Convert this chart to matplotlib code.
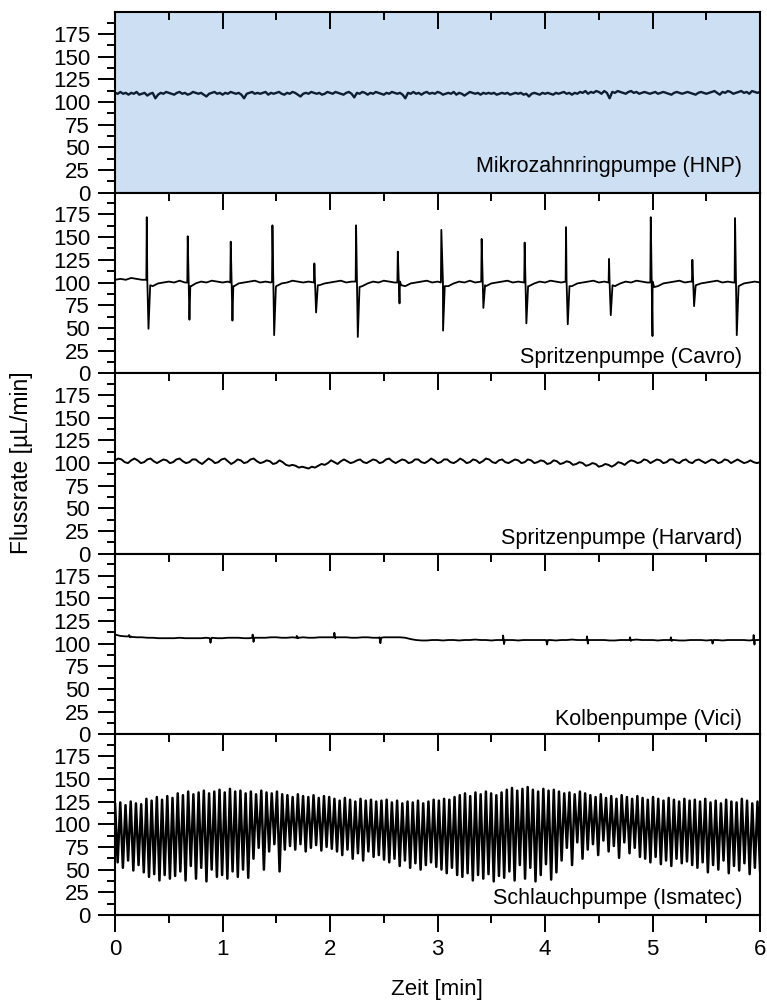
import numpy as np
import matplotlib
matplotlib.use("Agg")
import matplotlib.pyplot as plt
from matplotlib.ticker import MultipleLocator, FixedLocator

plt.rcParams["font.family"] = ["Liberation Sans", "DejaVu Sans"]

T_END = 6.0  # min

panel_labels = [
    "Mikrozahnringpumpe (HNP)",
    "Spritzenpumpe (Cavro)",
    "Spritzenpumpe (Harvard)",
    "Kolbenpumpe (Vici)",
    "Schlauchpumpe (Ismatec)",
]
label_y = [0.145, 0.085, 0.085, 0.085, 0.09]
x_ticks = [0, 1, 2, 3, 4, 5, 6]
x_minor = [0.5, 1.5, 2.5, 3.5, 4.5, 5.5]

# HNP, 0.025 min steps (241 values)
hnp_flow = [
    110, 109, 111, 109, 110, 108, 110, 109, 111, 108, 109, 110, 107, 109, 110, 104, 108, 110, 109, 111,
    110, 109, 108, 110, 111, 109, 110, 108, 109, 111, 110, 109, 110, 108, 106, 109, 110, 111, 109, 110,
    108, 110, 109, 111, 110, 109, 110, 108, 104, 109, 110, 111, 109, 110, 109, 110, 111, 108, 110, 109,
    110, 111, 109, 108, 110, 109, 111, 110, 108, 106, 109, 110, 109, 111, 110, 109, 110, 108, 109, 111,
    110, 109, 111, 110, 109, 108, 110, 111, 109, 105, 110, 109, 111, 110, 108, 110, 109, 111, 110, 109,
    108, 110, 109, 111, 110, 109, 110, 108, 104, 110, 109, 111, 109, 110, 108, 110, 111, 109, 110, 109,
    111, 110, 108, 109, 110, 109, 111, 108, 110, 109, 107, 109, 111, 110, 109, 110, 108, 110, 109, 110,
    109, 110, 108, 109, 110, 109, 110, 108, 109, 110, 109, 110, 108, 109, 106, 109, 110, 109, 108, 110,
    109, 110, 109, 108, 110, 109, 110, 111, 109, 110, 108, 110, 109, 111, 110, 112, 109, 111, 110, 112,
    111, 109, 112, 110, 104, 111, 110, 112, 111, 110, 109, 111, 112, 110, 111, 109, 110, 111, 110, 109,
    110, 111, 109, 110, 111, 110, 109, 108, 110, 111, 110, 109, 110, 111, 110, 109, 108, 110, 111, 110,
    109, 110, 111, 112, 110, 108, 111, 110, 112, 111, 109, 110, 111, 112, 110, 111, 109, 112, 111, 110,
    111,
]

# Cavro: baseline in 0.05 min steps (121 values) + the sharp up/down spikes
cavro_base = [
    103, 104, 103, 105, 104, 103, 103, 96, 99, 100, 101, 100, 102, 100, 96, 99, 101, 100, 102, 101,
    100, 101, 96, 99, 100, 101, 102, 100, 101, 100, 96, 99, 100, 102, 101, 100, 101, 100, 97, 99,
    100, 101, 102, 100, 101, 100, 96, 99, 101, 100, 102, 101, 100, 101, 96, 99, 100, 101, 102, 100,
    101, 100, 96, 99, 101, 100, 102, 100, 101, 96, 99, 100, 101, 102, 100, 101, 100, 96, 99, 101,
    100, 102, 101, 100, 101, 96, 99, 100, 101, 102, 100, 101, 100, 96, 99, 101, 100, 102, 101, 100,
    101, 96, 99, 100, 101, 102, 100, 101, 96, 99, 100, 101, 102, 100, 101, 100, 96, 99, 100, 101,
    100,
]
cavro_spike_t = [0.295, 0.676, 1.076, 1.464, 1.854, 2.242, 2.63, 3.035,
                 3.41, 3.81, 4.195, 4.595, 4.983, 5.37, 5.767]
cavro_spike_pre = [103, 100, 100, 101, 100, 101, 100, 100, 101, 100, 101, 100, 100, 101, 100]
cavro_spike_hi = [172, 151, 145, 163, 121, 163, 134, 158, 148, 144, 161, 126, 172, 125, 171]
cavro_spike_lo = [49, 59, 58, 42, 67, 40, 77, 47, 72, 55, 54, 64, 41, 74, 42]
cavro_spike_post = [97, 96, 96, 95, 97, 95, 97, 96, 97, 96, 96, 97, 95, 97, 95]

# Harvard, 0.03 min steps (201 values)
harvard_flow = [
    103, 105, 104, 101, 100, 103, 105, 103, 100, 101, 104, 105, 102, 100, 102, 104, 103, 100, 101, 104,
    105, 102, 100, 101, 104, 104, 101, 99, 102, 105, 103, 100, 101, 104, 105, 102, 99, 101, 104, 103,
    100, 101, 104, 105, 102, 100, 101, 103, 102, 99, 100, 103, 101, 98, 97, 98, 97, 95, 96, 95,
    94, 96, 95, 97, 99, 98, 100, 103, 101, 99, 102, 104, 102, 100, 101, 103, 104, 101, 100, 102,
    104, 103, 100, 101, 104, 105, 102, 100, 102, 104, 103, 100, 101, 104, 104, 101, 100, 102, 105, 103,
    100, 101, 104, 104, 101, 100, 102, 105, 103, 100, 101, 104, 103, 100, 102, 105, 104, 101, 100, 103,
    104, 101, 100, 102, 104, 103, 100, 101, 104, 103, 100, 101, 103, 102, 99, 100, 103, 102, 99, 100,
    102, 101, 98, 99, 101, 100, 97, 98, 100, 99, 96, 97, 99, 98, 96, 98, 101, 100, 98, 101,
    103, 102, 100, 101, 104, 103, 100, 102, 104, 103, 100, 101, 104, 104, 101, 100, 103, 104, 101, 100,
    103, 104, 102, 100, 102, 104, 103, 100, 101, 104, 103, 100, 102, 104, 102, 100, 101, 103, 101, 100,
    101,
]

# Vici: baseline in 0.05 min steps (121 values) + small glitches
vici_base = [
    110, 108.5, 108, 107.5, 107, 107, 106.5, 106.5, 106, 106, 106, 106, 106.5, 106, 106, 106, 106, 106.5, 106.5, 106,
    106, 106.5, 106.5, 106.5, 106, 106, 106.5, 106.5, 106.5, 107, 107, 106.5, 106.5, 107, 107, 107, 106.5, 106.5, 107, 107,
    107, 107, 107, 107, 106.5, 106.5, 107, 107, 106.5, 106.5, 107, 107, 107, 107, 106.5, 105, 104, 103.5, 103.5, 104,
    104, 103.5, 104, 104, 103.5, 104, 104, 104.5, 104, 104, 103.5, 104, 104, 104, 104, 103.5, 104, 104, 104, 104,
    104, 104, 103.5, 104, 104, 104.5, 104, 104, 103.5, 104, 104, 104, 103.5, 103.5, 104, 104, 104, 104.5, 104, 104,
    104, 103.5, 104, 104, 104, 103.5, 103.5, 104, 104, 104, 103.5, 104, 104, 103.5, 104, 104, 104, 104, 103.5, 104,
    104,
]
vici_spike_t = [0.13, 0.88, 1.28, 1.69, 2.04, 2.46, 3.61, 4.01, 4.39, 4.79, 5.17, 5.55, 5.94]
vici_spike_level = [108, 106, 106.5, 106.5, 107, 106.5, 104, 104, 104, 104, 104, 104, 104]
vici_spike_hi = [109.5, 106, 110, 108.5, 112, 107, 109, 104, 108, 107, 107, 104, 109.5]
vici_spike_lo = [107, 101, 102, 106, 106, 100.5, 99.5, 99, 100, 103, 103, 100, 99]

# Ismatec: one peak and one trough per pump cycle (124 cycles)
ismatec_peak = [
    122, 124, 121, 125, 123, 122,
    128, 126, 130, 127, 131, 129,
    134, 132, 136, 133, 135, 137, 134, 136,
    138, 135, 139, 136, 137, 134,
    136, 133, 137, 135, 134, 136, 133,
    132, 130, 133, 131, 130, 132, 129, 131, 130,
    128, 126, 129, 127, 125, 128, 126, 127, 125, 126,
    127, 124, 126, 123, 125, 124, 126, 123, 125, 127,
    126, 128, 127, 130,
    132, 134, 131, 135, 133, 136, 134, 132, 135,
    138, 140, 137, 139, 141, 138, 136, 139, 137, 138,
    136, 134, 135, 133, 136, 134,
    132, 130, 133, 129, 131, 128, 132, 130, 128, 131,
    129, 127, 130, 128, 126, 129, 127, 125, 128, 126,
    127, 125, 128, 124, 126, 123, 127, 125, 124, 128, 126, 123, 125,
]
ismatec_trough = [
    58, 52, 60, 49, 55, 47,
    42, 45, 38, 44, 40, 43,
    48, 38, 54, 40, 52, 37, 50, 42,
    44, 40, 48, 42, 50, 41,
    62, 74, 50, 70, 78, 48, 72,
    76, 72, 78, 70, 74, 77, 71, 75, 73,
    70, 66, 72, 62, 68, 60, 70, 64, 66, 61,
    58, 62, 54, 60, 52, 57, 50, 55, 58, 53,
    50, 46, 52, 44,
    42, 46, 38, 44, 40, 45, 37, 43, 41,
    48, 38, 55, 40, 52, 37, 44, 56, 39, 47,
    60, 74, 55, 80, 62, 72,
    78, 66, 82, 70, 76, 63, 80, 68, 74, 64,
    62, 58, 64, 56, 60, 54, 62, 57, 59, 55,
    52, 58, 47, 55, 50, 60, 46, 54, 49, 57, 45, 52, 48,
]


def evenly(values):
    t = np.linspace(0, T_END, len(values))
    return t, np.asarray(values, dtype=float)


def with_spikes(base, t_spike, pre, hi, lo, post, width):
    # baseline samples plus, per spike: level just before, up, down, level after
    t = np.linspace(0, T_END, len(base))
    ts = np.asarray(t_spike)
    tt = np.concatenate([t, ts - 0.004, ts, ts + width, ts + 2 * width])
    yy = np.concatenate([base, pre, hi, lo, post]).astype(float)
    order = np.argsort(tt, kind="stable")
    return tt[order], yy[order]


def alternating(peaks, troughs):
    n = len(peaks)
    t = np.linspace(0, T_END, 2 * n)
    y = np.empty(2 * n)
    y[0::2] = peaks
    y[1::2] = troughs
    return t, y


series = [
    evenly(hnp_flow),
    with_spikes(cavro_base, cavro_spike_t, cavro_spike_pre, cavro_spike_hi,
                cavro_spike_lo, cavro_spike_post, 0.016),
    evenly(harvard_flow),
    with_spikes(vici_base, vici_spike_t, vici_spike_level, vici_spike_hi,
                vici_spike_lo, vici_spike_level, 0.008),
    alternating(ismatec_peak, ismatec_trough),
]
line_colors = ["#0f1d30", "black", "black", "black", "black"]
line_widths = [1.7, 1.3, 1.4, 1.3, 1.8]

fig = plt.figure(figsize=(7.67, 10.08), dpi=100)
gs = fig.add_gridspec(5, 1, left=0.150, right=0.991, top=0.988, bottom=0.0923, hspace=0)
axes = gs.subplots(sharex=True)

FS = 16
for i, ax in enumerate(axes):
    t, y = series[i]
    ax.plot(t, y, color=line_colors[i], lw=line_widths[i])
    ax.set_xlim(0, T_END)
    ax.set_ylim(0, 199)
    ax.yaxis.set_major_locator(MultipleLocator(25))
    ax.yaxis.set_minor_locator(MultipleLocator(12.5))
    ax.xaxis.set_major_locator(FixedLocator(x_ticks))
    ax.xaxis.set_minor_locator(FixedLocator(x_minor))
    ax.tick_params(axis="y", which="both", direction="out", left=True, right=False,
                   labelsize=FS, width=1.4, pad=6)
    ax.tick_params(axis="y", which="major", length=12)
    ax.tick_params(axis="y", which="minor", length=6)
    ax.tick_params(axis="x", which="both", direction="in", top=True, bottom=False,
                   labelbottom=False, width=1.4)
    ax.tick_params(axis="x", which="major", length=12)
    ax.tick_params(axis="x", which="minor", length=6)
    for sp in ax.spines.values():
        sp.set_linewidth(1.5)
    ax.text(0.972, label_y[i], panel_labels[i], transform=ax.transAxes,
            ha="right", va="center", fontsize=15.5)

axes[0].set_facecolor("#cddff3")

# bottom axis of last panel: ticks pointing outward, with labels
sec = axes[-1].secondary_xaxis("bottom")
sec.xaxis.set_major_locator(FixedLocator(x_ticks))
sec.xaxis.set_minor_locator(FixedLocator(x_minor))
sec.tick_params(axis="x", which="both", direction="out", width=1.4, labelsize=FS, pad=5)
sec.tick_params(axis="x", which="major", length=12)
sec.tick_params(axis="x", which="minor", length=6)
sec.spines["bottom"].set_linewidth(1.5)

fig.text(437 / 767, 1 - 990 / 1008, "Zeit [min]", ha="center", va="center", fontsize=FS)
fig.text(22 / 767, 1 - 463 / 1008, "Flussrate [µL/min]", ha="center", va="center",
         rotation=90, fontsize=16.5)

fig.savefig("out.png", dpi=100)
